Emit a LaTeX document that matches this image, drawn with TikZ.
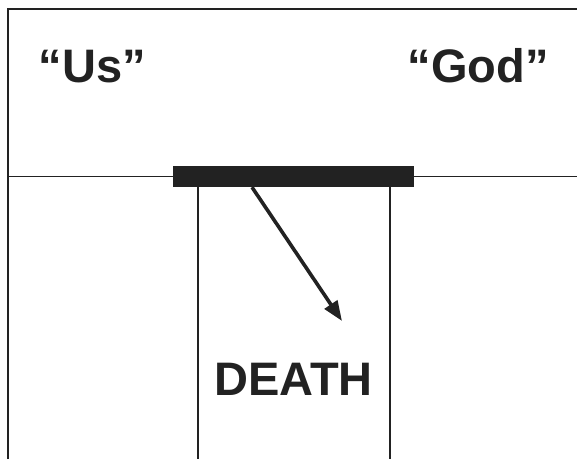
\documentclass[tikz,border=0pt]{standalone}
\usepackage{fontspec}
\setmainfont{Liberation Sans}
\usetikzlibrary{arrows.meta, positioning, calc}
\definecolor{inkgray}{RGB}{34,34,34}

\begin{document}
\begin{tikzpicture}[x=1pt, y=-1pt, every node/.style={font=\bfseries\fontsize{47}{56}\selectfont, text=inkgray}]
    \useasboundingbox (0,0) rectangle (577,459);

    % Frame
    \draw[line width=2.2pt, inkgray] (8,459) -- (8,9) -- (577,9);

    % Labels
    \node[anchor=base] (us) at (92.5,82) {“Us”};
    \node[anchor=base] (god) at (478,82) {“God”};

    % Horizon with the bar
    \coordinate (hleft) at (8,176.5);
    \coordinate (hright) at (577,176.5);
    \node[fill=inkgray, minimum width=241pt, minimum height=21pt, inner sep=0pt] (bar) at (293.5,176.5) {};
    \draw[line width=1.4pt, inkgray] (hleft) -- (bar.west);
    \draw[line width=1.4pt, inkgray] (bar.east) -- (hright);

    % Shaft
    \coordinate (shaftl) at (198,459);
    \coordinate (shaftr) at (390,459);
    \draw[line width=2pt, inkgray] (bar.south -| shaftl) -- (shaftl);
    \draw[line width=2pt, inkgray] (bar.south -| shaftr) -- (shaftr);

    % Arrow
    \coordinate (tail) at (252,0);
    \coordinate (tip) at (342,321);
    \draw[line width=3.6pt, inkgray, -{Triangle[length=20pt, width=15pt]}] (bar.south -| tail) -- (tip);

    \node[anchor=base] (death) at (293.5,395) {DEATH};
\end{tikzpicture}
\end{document}
